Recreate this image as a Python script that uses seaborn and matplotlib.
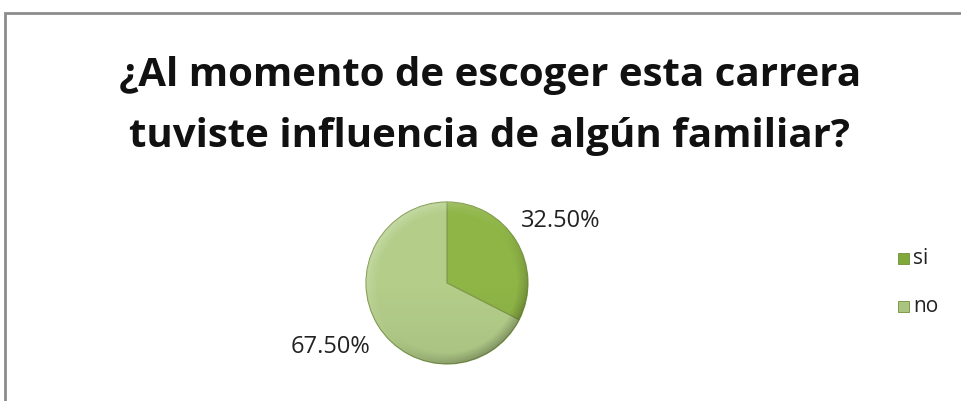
import matplotlib
matplotlib.use("Agg")
import matplotlib.pyplot as plt
from matplotlib.patches import Rectangle
import numpy as np
import seaborn as sns

categories = ["si", "no"]
shares = [32.5, 67.5]
colors = ["#8FB547", "#B4CE8A"]
legend_colors = ["#80A83A", "#A9C47E"]
title = "¿Al momento de escoger esta carrera\ntuviste influencia de algún familiar?"

sns.set_style("white")
plt.rcParams["font.family"] = ["Open Sans", "DejaVu Sans"]

W, H = 962, 401
fig = plt.figure(figsize=(W / 100, H / 100), dpi=100)
fig.patch.set_facecolor("white")

# chart area frame (open at right and bottom)
fig.add_artist(Rectangle((5 / W, -0.1), 1.2, 1 - 13 / H + 0.1,
                         transform=fig.transFigure, fill=False,
                         edgecolor="#8C8C8C", linewidth=2))

fig.text(490 / W, 1 - 106 / H, title, ha="center", va="center",
         fontsize=29, fontweight="bold", color="#111111", linespacing=1.76)

cx, cy, r = 447, 283, 81
ax = fig.add_axes([(cx - r) / W, (H - cy - r) / H, 2 * r / W, 2 * r / H])
wedges, _ = ax.pie(shares, colors=colors, startangle=90, counterclock=False,
                   radius=1,
                   wedgeprops=dict(edgecolor="#7E9A4A", linewidth=0.8))

# soft bevel shading: light rim at upper left, darker rim at lower right
yy, xx = np.mgrid[-1:1:300j, -1:1:300j]
rr = np.hypot(xx, yy)
rim = np.clip((rr - 0.86) / 0.14, 0, 1)
side = (yy - xx) / 2.0  # +1 upper left, -1 lower right
dark = np.zeros(rr.shape + (4,))
dark[..., 3] = np.clip(rim * np.clip(-side, 0, 1) * 0.35 + np.clip(-yy, 0, 1) * 0.06, 0, 1)
light = np.ones(rr.shape + (4,))
light[..., 3] = np.clip(rim * np.clip(side, 0, 1) * 0.35, 0, 1)
for w in wedges:
    for img in (dark, light):
        im = ax.imshow(img, extent=(-1, 1, -1, 1), origin="lower",
                       zorder=w.get_zorder() + 0.1, interpolation="bilinear")
        im.set_clip_path(w)

ax.set_xlim(-1, 1)
ax.set_ylim(-1, 1)
ax.set_aspect("equal")
ax.axis("off")

# percentage labels beside the slices
label_pos = [(0.91, 0.76, "left"), (-0.94, -0.79, "right")]
for v, (x, y, ha) in zip(shares, label_pos):
    ax.text(x, y, f"{v:.2f}%", ha=ha, va="center", fontsize=17,
            color="#222222", clip_on=False)

# legend
for i, (name, c) in enumerate(zip(categories, legend_colors)):
    y = 1 - (258 + 48 * i) / H
    fig.add_artist(Rectangle((898 / W, y - 5.5 / H), 11 / W, 11 / H,
                             transform=fig.transFigure, facecolor=c,
                             edgecolor="#6F8F3A", linewidth=0.6))
    fig.text(913 / W, y, name, ha="left", va="center", fontsize=15,
             color="#222222")

fig.savefig("out.png", dpi=100)
